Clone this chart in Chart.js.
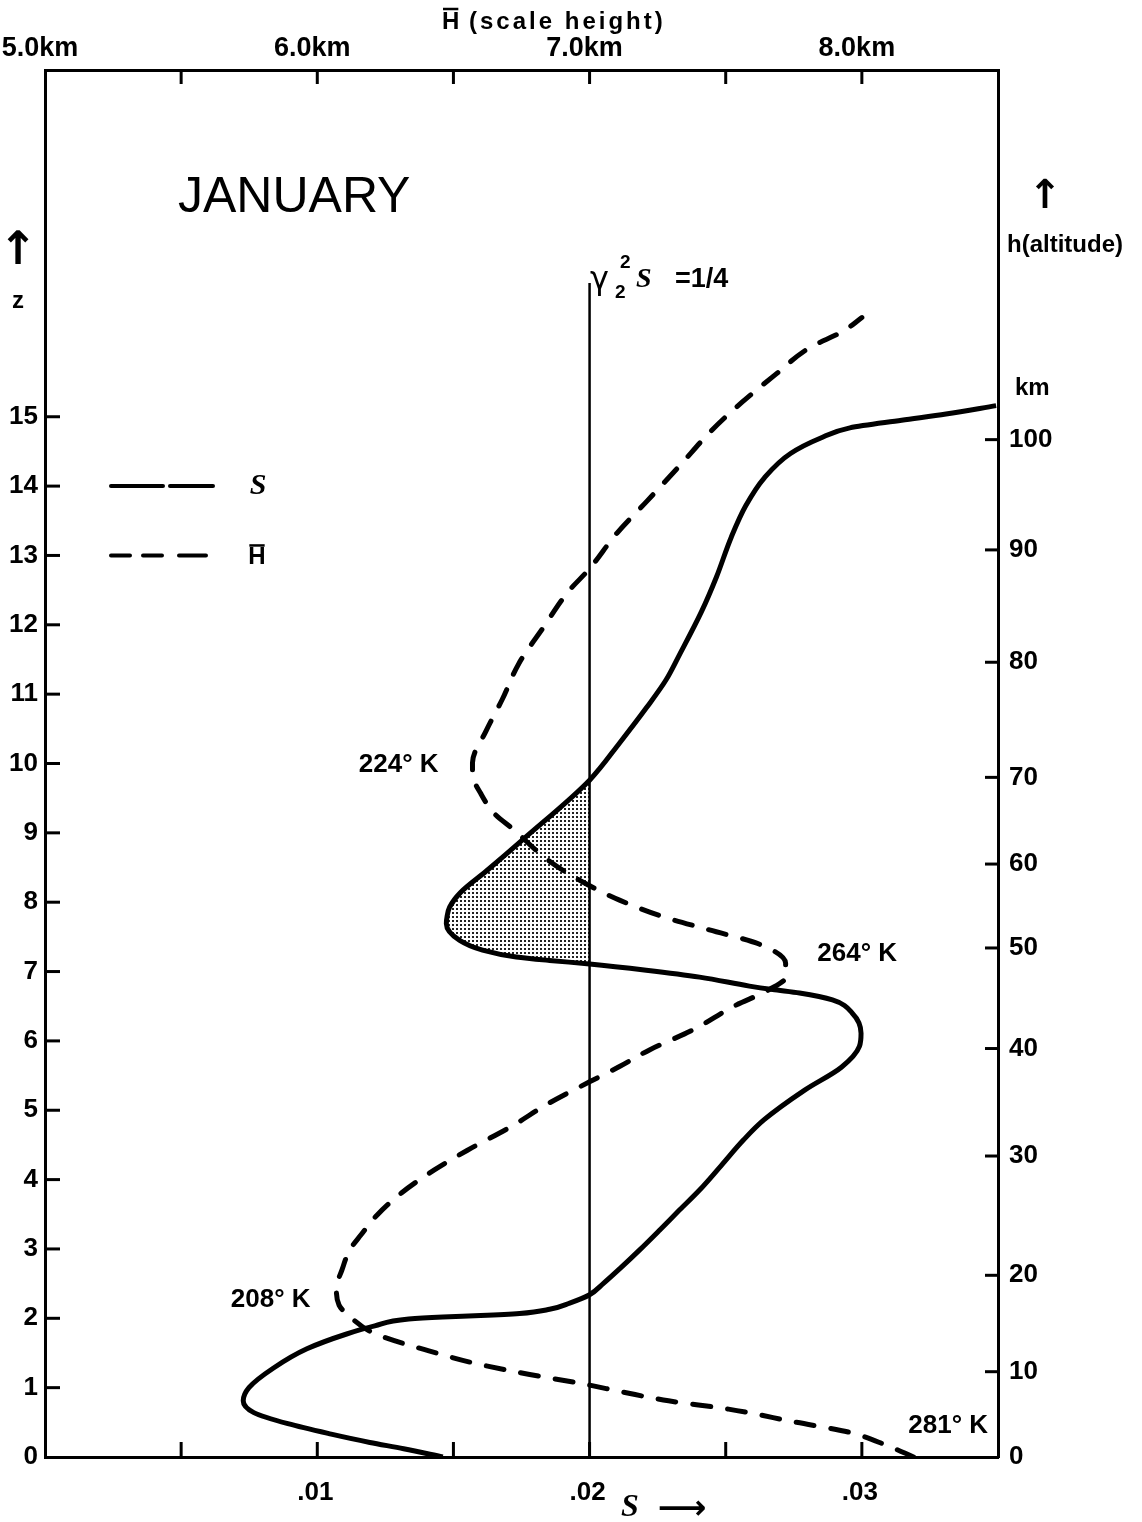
<!DOCTYPE html>
<html>
<head>
<meta charset="utf-8">
<title>January - S and scale height</title>
<script src="https://cdn.jsdelivr.net/npm/chart.js"></script>
<style>
    html, body { margin: 0; padding: 0; background: #fff; }
    #wrap { width: 1142px; height: 1522px; }
</style>
</head>
<body>
<div id="wrap"><canvas id="grafico" width="1142" height="1522"></canvas></div>
<script>
// Curva S (solid), Z -> S
const sCurveZ = [0, 0.12, 0.21, 0.33, 0.48, 0.64, 0.81, 1.0, 1.28, 1.56, 1.77, 1.89, 1.99, 2.02, 2.04, 2.07,
    2.13, 2.22, 2.34, 2.50, 2.73, 2.99, 3.27, 3.56, 3.85, 4.21, 4.57, 4.86, 5.29, 5.62, 5.92, 6.11, 6.40, 6.59,
    6.69, 6.74, 6.79, 6.92, 7.02, 7.11, 7.16, 7.21, 7.31, 7.45, 7.69, 7.80, 7.93, 8.14, 8.45, 8.91, 9.76,
    10.30, 10.81, 11.20, 11.56, 12.19, 12.69, 13.26, 13.72, 14.12, 14.47, 14.69, 14.84, 14.95, 15.04, 15.16];
const sCurveS = [0.01461, 0.01317, 0.01193, 0.01051, 0.00892, 0.00767, 0.00728, 0.00749, 0.00838, 0.00962,
    0.01105, 0.01211, 0.01336, 0.01461, 0.01600, 0.01743, 0.01853, 0.01927, 0.02000, 0.02050, 0.02115,
    0.02185, 0.02257, 0.02330, 0.02404, 0.02485, 0.02565, 0.02640, 0.02790, 0.02925, 0.02991, 0.02997,
    0.02965, 0.02892, 0.02771, 0.02672, 0.02587, 0.02404, 0.02208, 0.02000, 0.01853, 0.01731, 0.01607,
    0.01523, 0.01474, 0.01477, 0.01486, 0.01526, 0.01621, 0.01757, 0.02000, 0.02111, 0.02210, 0.02280,
    0.02329, 0.02411, 0.02466, 0.02520, 0.02574, 0.02642, 0.02738, 0.02847, 0.02956, 0.03146, 0.03309,
    0.03493];

// Scale height H (dashed), Z -> km
const hCurveZ = [0, 0.17, 0.36, 0.50, 0.69, 0.81, 0.93, 1.06, 1.19, 1.35, 1.53, 1.72, 1.82, 1.99, 2.19, 2.44,
    2.69, 2.99, 3.20, 3.49, 3.81, 4.14, 4.42, 4.76, 5.10, 5.41, 5.63, 5.87, 6.16, 6.50, 6.74, 6.92, 7.12,
    7.40, 7.60, 7.79, 8.03, 8.28, 8.60, 9.05, 9.28, 9.57, 9.84, 10.01, 10.47, 10.93, 11.44, 11.96, 12.47,
    12.81, 13.32, 13.78, 14.29, 14.81, 15.21, 15.60, 16.00, 16.23, 16.43];
const hCurveKm = [8.19, 8.09, 7.95, 7.76, 7.51, 7.29, 7.13, 6.97, 6.78, 6.58, 6.41, 6.25, 6.19, 6.13, 6.08, 6.07,
    6.09, 6.12, 6.16, 6.22, 6.31, 6.43, 6.55, 6.71, 6.85, 7.00, 7.11, 7.22, 7.38, 7.53, 7.66, 7.72, 7.72,
    7.62, 7.44, 7.27, 7.11, 6.98, 6.85, 6.72, 6.65, 6.60, 6.57, 6.57, 6.62, 6.68, 6.74, 6.83, 6.92,
    7.00, 7.10, 7.21, 7.33, 7.45, 7.56, 7.68, 7.81, 7.93, 8.00];

// linha gamma2^2 S = 1/4
const criticalS = 0.02;
const criticalTopZ = 16.93;
const shadeFromZ = 7.11;
const shadeToZ = 9.76;

// eixos
const sTickValues = [0, 0.005, 0.01, 0.015, 0.02, 0.025, 0.03, 0.035];
const sTickLabels = ["", "", ".01", "", ".02", "", ".03", ""];
const hTickValues = [5.0, 5.5, 6.0, 6.5, 7.0, 7.5, 8.0, 8.5];
const hTickLabels = ["5.0km", "", "6.0km", "", "7.0km", "", "8.0km", ""];
const zTickValues = [0, 1, 2, 3, 4, 5, 6, 7, 8, 9, 10, 11, 12, 13, 14, 15];
const zTickLabels = ["0", "1", "2", "3", "4", "5", "6", "7", "8", "9", "10", "11", "12", "13", "14", "15"];
const altitudeKm = ["0", "10", "20", "30", "40", "50", "60", "70", "80", "90", "100"];
const altitudeZ = [0, 1.23, 2.62, 4.34, 5.89, 7.34, 8.55, 9.80, 11.46, 13.08, 14.67];

// temperaturas marcadas na curva H
const tempText = ["224° K", "264° K", "208° K", "281° K"];
const tempS = [0.01299, 0.02983, 0.00829, 0.03317];
const tempZ = [9.98, 7.25, 2.26, 0.45];

const FAMILY = '"Liberation Sans", Arial, sans-serif';
const tickFont = { family: FAMILY, weight: "bold", size: 26 };

function fonte(size, weight = "bold", family = FAMILY) {
    return `${weight} ${size}px ${family}`;
}

function fixedTicks(values) {
    return scale => { scale.ticks = values.map(v => ({ value: v })); };
}

function stipple() {
    const c = document.createElement("canvas");
    c.width = 4; c.height = 4;
    const g = c.getContext("2d");
    g.fillStyle = "#222";
    g.fillRect(0, 0, 2, 2);
    return g.createPattern(c, "repeat");
}

const sPoints = sCurveZ.map((z, i) => ({ x: sCurveS[i], y: z }));
const hPoints = hCurveZ.map((z, i) => ({ x: hCurveKm[i], y: z }));
const shadePoints = sPoints.filter(p => p.y >= shadeFromZ && p.y <= shadeToZ);

function axisCommon(extra) {
    return Object.assign({
        type: "linear",
        grid: { display: false, drawTicks: false },
        border: { display: true, color: "#000", width: 3 },
    }, extra);
}

function overbarH(ctx, x, y, size) {
    ctx.font = fonte(size);
    ctx.textAlign = "center";
    ctx.textBaseline = "middle";
    ctx.fillText("H", x, y);
    const w = ctx.measureText("H").width;
    ctx.lineWidth = 2.5;
    ctx.beginPath();
    ctx.moveTo(x - w / 2 + 1, y - size * 0.5);
    ctx.lineTo(x + w / 2 - 1, y - size * 0.5);
    ctx.stroke();
}

const decor = {
    id: "decor",
    afterDraw(chart) {
        const { ctx, chartArea: a, scales } = chart;
        const X = scales.x, Y = scales.y;
        ctx.save();
        ctx.strokeStyle = "#000";
        ctx.fillStyle = "#000";

        // ticks para dentro
        ctx.lineWidth = 3;
        const lens = { x: 15, xTop: 14, y: 15, yRight: 13 };
        Object.keys(lens).forEach(id => {
            const s = scales[id], len = lens[id];
            s.ticks.forEach(t => {
                if (t.value <= s.min || t.value >= s.max) return;
                const p = s.getPixelForValue(t.value);
                ctx.beginPath();
                if (id === "x") { ctx.moveTo(p, a.bottom); ctx.lineTo(p, a.bottom - len); }
                else if (id === "xTop") { ctx.moveTo(p, a.top); ctx.lineTo(p, a.top + len); }
                else if (id === "y") { ctx.moveTo(a.left, p); ctx.lineTo(a.left + len, p); }
                else { ctx.moveTo(a.right, p); ctx.lineTo(a.right - len, p); }
                ctx.stroke();
            });
        });

        // titulo de cima
        ctx.textBaseline = "alphabetic";
        ctx.textAlign = "left";
        ctx.font = fonte(24);
        const tx = 442;
        ctx.fillText("H", tx, 29);
        const hw = ctx.measureText("H").width;
        ctx.lineWidth = 2.5;
        ctx.beginPath(); ctx.moveTo(tx + 1, 9); ctx.lineTo(tx + hw - 1, 9); ctx.stroke();
        ctx.letterSpacing = "3px";
        ctx.fillText(" (scale height)", tx + hw, 29);
        ctx.letterSpacing = "0px";

        // JANUARY
        ctx.font = fonte(50, "normal");
        ctx.fillText("JANUARY", 178, 212);

        // eixo z
        ctx.textAlign = "center";
        ctx.textBaseline = "middle";
        ctx.font = fonte(46, "bold", '"DejaVu Sans", sans-serif');
        ctx.fillText("↑", 18, 252);
        ctx.font = fonte(24);
        ctx.fillText("z", 18, 301);

        // eixo h
        ctx.font = fonte(40, "bold", '"DejaVu Sans", sans-serif');
        ctx.fillText("↑", 1045, 198);
        ctx.textAlign = "left";
        ctx.font = fonte(24);
        ctx.fillText("h(altitude)", 1007, 245);
        ctx.fillText("km", 1015, 388);

        // S ->
        ctx.textAlign = "center";
        ctx.font = fonte(32, "italic bold", '"Liberation Serif", serif');
        ctx.fillText("S", 630, 1508);
        ctx.font = fonte(34, "bold", '"DejaVu Sans", sans-serif');
        ctx.fillText("⟶", 682, 1510);

        // gamma2^2 S = 1/4
        ctx.textAlign = "left";
        ctx.textBaseline = "alphabetic";
        ctx.font = fonte(32, "normal", '"DejaVu Sans", sans-serif');
        ctx.fillText("γ", 590, 289);
        ctx.font = fonte(19);
        ctx.fillText("2", 620, 268);
        ctx.fillText("2", 615, 298);
        ctx.font = fonte(28, "italic bold", '"Liberation Serif", serif');
        ctx.fillText("S", 636, 287);
        ctx.font = fonte(27);
        ctx.fillText("=1/4", 675, 287);

        // temperaturas
        ctx.textAlign = "center";
        ctx.textBaseline = "middle";
        ctx.font = fonte(26);
        tempText.forEach((t, i) => {
            ctx.fillText(t, X.getPixelForValue(tempS[i]), Y.getPixelForValue(tempZ[i]));
        });

        // legenda
        const ly1 = Y.getPixelForValue(14), ly2 = Y.getPixelForValue(13);
        ctx.lineWidth = 4;
        ctx.lineCap = "round";
        [[111, 163], [170, 213]].forEach(([x1, x2]) => {
            ctx.beginPath(); ctx.moveTo(x1, ly1); ctx.lineTo(x2, ly1); ctx.stroke();
        });
        [[111, 130], [143, 162], [179, 206]].forEach(([x1, x2]) => {
            ctx.beginPath(); ctx.moveTo(x1, ly2); ctx.lineTo(x2, ly2); ctx.stroke();
        });
        ctx.lineCap = "butt";
        ctx.font = fonte(30, "italic bold", '"Liberation Serif", serif');
        ctx.fillText("S", 258, ly1);
        overbarH(ctx, 257, ly2 + 2, 24);

        ctx.restore();
    }
};

const ctx = document.getElementById("grafico").getContext("2d");

new Chart(ctx, {
    type: "line",
    data: {
        datasets: [
            {
                label: "S",
                data: sPoints,
                xAxisID: "x", yAxisID: "y",
                borderColor: "#000", borderWidth: 5,
                pointRadius: 0, cubicInterpolationMode: "monotone", fill: false
            },
            {
                label: "H",
                data: hPoints,
                xAxisID: "xTop", yAxisID: "y",
                borderColor: "#000", borderWidth: 5,
                borderDash: [18, 17], borderCapStyle: "round",
                pointRadius: 0, cubicInterpolationMode: "monotone", fill: false
            },
            {
                label: "gamma",
                data: [{ x: criticalS, y: 0 }, { x: criticalS, y: criticalTopZ }],
                xAxisID: "x", yAxisID: "y",
                borderColor: "#000", borderWidth: 2.5,
                pointRadius: 0, fill: false
            },
            {
                label: "shade",
                data: shadePoints,
                xAxisID: "x", yAxisID: "y",
                borderWidth: 0, borderColor: "rgba(0,0,0,0)",
                backgroundColor: stipple(),
                pointRadius: 0, cubicInterpolationMode: "monotone",
                fill: { value: criticalS }
            }
        ]
    },
    options: {
        indexAxis: "y",
        responsive: false,
        animation: false,
        events: [],
        layout: { padding: 0 },
        plugins: {
            legend: { display: false },
            tooltip: { enabled: false }
        },
        scales: {
            x: axisCommon({
                axis: "x", position: "bottom", min: 0, max: 0.035,
                afterBuildTicks: fixedTicks(sTickValues),
                afterFit: s => { s.height = 65; },
                ticks: {
                    autoSkip: false, maxRotation: 0, color: "#000", font: tickFont,
                    padding: 20, labelOffset: -2,
                    callback: (v, i) => sTickLabels[i]
                }
            }),
            xTop: axisCommon({
                axis: "x", position: "top", min: 5, max: 8.5,
                afterBuildTicks: fixedTicks(hTickValues),
                afterFit: s => { s.height = 70; },
                ticks: {
                    autoSkip: false, maxRotation: 0, color: "#000", font: { family: FAMILY, weight: "bold", size: 27 },
                    padding: 5, labelOffset: -5,
                    callback: (v, i) => hTickLabels[i]
                }
            }),
            y: axisCommon({
                axis: "y", position: "left", min: 0, max: 20,
                afterBuildTicks: fixedTicks(zTickValues),
                afterFit: s => { s.width = 45; },
                ticks: {
                    autoSkip: false, color: "#000", font: tickFont, padding: 7,
                    callback: (v, i) => zTickLabels[i]
                }
            }),
            yRight: axisCommon({
                axis: "y", position: "right", min: 0, max: 20,
                afterBuildTicks: fixedTicks(altitudeZ),
                afterFit: s => { s.width = 144; },
                ticks: {
                    autoSkip: false, color: "#000", font: tickFont, padding: 11,
                    callback: (v, i) => altitudeKm[i]
                }
            })
        }
    },
    plugins: [decor]
});
</script>
</body>
</html>
